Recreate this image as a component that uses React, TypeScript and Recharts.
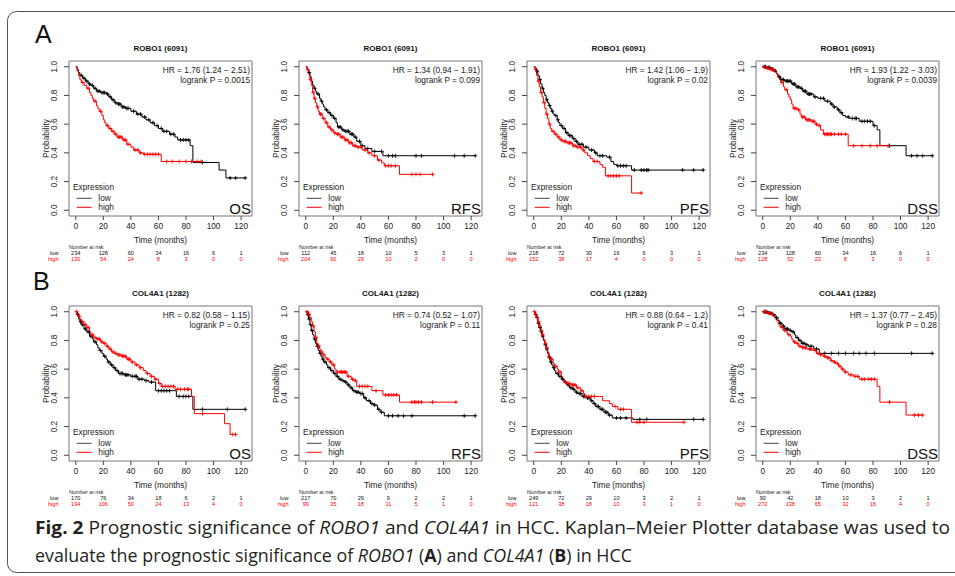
import React from 'react';
import { ComposedChart, Line, Scatter, XAxis, YAxis, ReferenceArea } from 'recharts';

type Step = [number, number];

const monthTicks = [0, 20, 40, 60, 80, 100, 120];
const probTicks = [0, 0.2, 0.4, 0.6, 0.8, 1];

// ROBO1 (6091) - OS
const robo1OsLowSteps: Step[] = [[0, 1], [1, 0.98], [2, 0.96], [3, 0.94], [5, 0.92], [7, 0.9], [9, 0.88], [11, 0.87], [13, 0.85], [15, 0.83], [18, 0.82], [22, 0.81], [24, 0.79], [26, 0.77], [28, 0.75], [30, 0.74], [33, 0.72], [36, 0.71], [40, 0.69], [44, 0.67], [48, 0.65], [51, 0.63], [54, 0.61], [57, 0.59], [60, 0.57], [63, 0.55], [68, 0.53], [72, 0.51], [74, 0.49], [83, 0.45], [85, 0.333], [104, 0.28], [109, 0.225]];
const robo1OsLowCensor = [4, 6, 8, 10, 12, 14, 16, 17, 19, 20, 21, 23, 25, 27, 29, 31, 32, 34, 35, 37, 38, 42, 45, 47, 50, 53, 56, 59, 62, 64, 66, 69, 71, 76, 78, 80, 82, 92, 112, 116, 123];
const robo1OsHighSteps: Step[] = [[0, 1], [1, 0.97], [2, 0.94], [3, 0.91], [4, 0.89], [6, 0.87], [8, 0.85], [10, 0.82], [11, 0.8], [12, 0.78], [13, 0.76], [15, 0.73], [16, 0.71], [17, 0.69], [19, 0.66], [20, 0.63], [21, 0.61], [22, 0.59], [24, 0.57], [26, 0.55], [28, 0.53], [30, 0.51], [34, 0.49], [37, 0.46], [40, 0.44], [42, 0.42], [46, 0.4], [49, 0.39], [62, 0.34]];
const robo1OsHighCensor = [5, 9, 14, 18, 23, 25, 27, 29, 31, 32, 33, 35, 36, 38, 43, 45, 47, 50, 52, 54, 56, 58, 60, 66, 70, 75, 80, 84, 88, 91];
const robo1OsRiskLow = [234, 128, 60, 34, 16, 6, 1];
const robo1OsRiskHigh = [130, 54, 24, 8, 3, 0, 0];

// ROBO1 (6091) - RFS
const robo1RfsLowSteps: Step[] = [[0, 1], [1, 0.98], [2, 0.96], [3, 0.93], [4, 0.9], [5, 0.87], [6, 0.85], [7, 0.83], [8, 0.81], [10, 0.78], [11, 0.76], [12, 0.74], [13, 0.72], [14, 0.7], [16, 0.68], [18, 0.66], [20, 0.64], [22, 0.61], [23, 0.58], [26, 0.56], [28, 0.55], [32, 0.53], [35, 0.51], [37, 0.48], [40, 0.45], [43, 0.43], [48, 0.41], [56, 0.38]];
const robo1RfsLowCensor = [2.5, 6.5, 9, 11.5, 15, 17, 19, 21, 24, 25, 27, 29, 30, 31, 33, 34, 36, 39, 41, 45, 50, 55, 60, 63, 65, 80, 84, 108, 115, 123];
const robo1RfsHighSteps: Step[] = [[0, 1], [1, 0.98], [2, 0.95], [3, 0.91], [4, 0.87], [5, 0.82], [6, 0.78], [7, 0.75], [8, 0.72], [9, 0.69], [10, 0.67], [12, 0.64], [14, 0.61], [16, 0.58], [18, 0.56], [20, 0.54], [22, 0.53], [25, 0.51], [28, 0.49], [31, 0.47], [34, 0.45], [37, 0.44], [41, 0.42], [45, 0.4], [48, 0.38], [52, 0.35], [55, 0.33], [57, 0.31], [68, 0.25]];
const robo1RfsHighCensor = [1.5, 3.5, 5.5, 6.5, 8.5, 10.5, 11, 13, 15, 17, 19, 21, 23, 24, 26, 27, 29, 30, 32, 33, 35, 36, 38, 40, 43, 46, 50, 53, 58, 60, 62, 65, 77, 80, 83, 92];
const robo1RfsRiskLow = [112, 45, 18, 10, 5, 3, 1];
const robo1RfsRiskHigh = [204, 60, 29, 10, 2, 0, 0];

// ROBO1 (6091) - PFS
const robo1PfsLowSteps: Step[] = [[0, 1], [1, 0.99], [2, 0.97], [3, 0.94], [4, 0.91], [5, 0.88], [6, 0.85], [7, 0.82], [8, 0.8], [9, 0.77], [10, 0.75], [11, 0.73], [12, 0.71], [13, 0.69], [14, 0.67], [15, 0.66], [17, 0.63], [18, 0.61], [19, 0.59], [21, 0.57], [23, 0.54], [25, 0.52], [28, 0.5], [30, 0.48], [32, 0.46], [36, 0.44], [40, 0.42], [44, 0.4], [46, 0.38], [53, 0.37], [56, 0.34], [58, 0.32], [60, 0.31], [71, 0.28]];
const robo1PfsLowCensor = [2.5, 4.5, 6.5, 9.5, 11.5, 13.5, 16, 17.5, 20, 22, 24, 26, 27, 29, 31, 33, 35, 38, 42, 45, 48, 50, 55, 61, 63, 65, 67, 73, 78, 80, 82, 83, 108, 116, 123];
const robo1PfsHighSteps: Step[] = [[0, 1], [1, 0.98], [2, 0.94], [3, 0.9], [4, 0.86], [5, 0.82], [6, 0.79], [7, 0.75], [8, 0.71], [9, 0.67], [10, 0.64], [11, 0.6], [12, 0.57], [13, 0.55], [15, 0.53], [17, 0.51], [19, 0.49], [21, 0.48], [24, 0.47], [28, 0.45], [31, 0.44], [35, 0.42], [37, 0.4], [39, 0.38], [41, 0.36], [43, 0.34], [48, 0.32], [50, 0.3], [52, 0.24], [71, 0.12]];
const robo1PfsHighCensor = [1.5, 3.5, 5.5, 7.5, 9.5, 11.5, 14, 16, 18, 20, 22, 23, 25, 26, 27, 29, 30, 32, 34, 36, 44, 46, 54, 56, 58, 60, 62, 78];
const robo1PfsRiskLow = [218, 72, 30, 16, 6, 3, 1];
const robo1PfsRiskHigh = [152, 38, 17, 4, 0, 0, 0];

// ROBO1 (6091) - DSS
const robo1DssLowSteps: Step[] = [[0, 1], [3, 0.995], [6, 0.985], [8, 0.97], [10, 0.95], [11, 0.93], [13, 0.91], [16, 0.9], [21, 0.88], [24, 0.86], [27, 0.85], [29, 0.83], [32, 0.81], [37, 0.79], [40, 0.78], [45, 0.76], [49, 0.74], [51, 0.72], [54, 0.7], [56, 0.68], [58, 0.66], [60, 0.65], [63, 0.64], [70, 0.62], [80, 0.59], [83, 0.56], [85, 0.45], [104, 0.38]];
const robo1DssLowCensor = [1, 2, 4, 5, 7, 9, 12, 14, 15, 17, 18, 19, 20, 22, 23, 25, 26, 28, 30, 31, 33, 34, 35, 38, 42, 44, 47, 50, 52, 55, 57, 62, 65, 67, 68, 72, 74, 76, 78, 81, 92, 108, 112, 116, 123];
const robo1DssHighSteps: Step[] = [[0, 1], [2, 0.99], [5, 0.98], [9, 0.97], [10, 0.95], [11, 0.93], [12, 0.91], [13, 0.89], [15, 0.86], [16, 0.84], [18, 0.81], [19, 0.79], [20, 0.77], [21, 0.74], [22, 0.71], [25, 0.7], [27, 0.67], [28, 0.65], [31, 0.63], [35, 0.62], [38, 0.6], [40, 0.59], [42, 0.56], [44, 0.53], [62, 0.45]];
const robo1DssHighCensor = [1, 3, 4, 6, 7, 8, 14, 17, 23, 24, 26, 29, 30, 32, 33, 34, 36, 37, 39, 41, 45, 46, 47, 48, 49, 50, 52, 55, 57, 60, 66, 72, 78, 83, 91];
const robo1DssRiskLow = [234, 128, 60, 34, 16, 6, 1];
const robo1DssRiskHigh = [128, 52, 23, 8, 3, 0, 0];

// COL4A1 (1282) - OS
const col4a1OsLowSteps: Step[] = [[0, 1], [1, 0.98], [2, 0.95], [3, 0.93], [4, 0.91], [6, 0.88], [8, 0.86], [10, 0.83], [12, 0.81], [13, 0.79], [15, 0.77], [16, 0.75], [17, 0.73], [19, 0.71], [20, 0.69], [22, 0.67], [23, 0.65], [25, 0.63], [27, 0.61], [29, 0.59], [31, 0.57], [35, 0.56], [40, 0.55], [45, 0.53], [50, 0.52], [53, 0.51], [58, 0.45], [73, 0.41], [85, 0.32]];
const col4a1OsLowCensor = [1.5, 3.5, 5, 7, 9, 11, 14, 18, 21, 24, 26, 28, 30, 32, 33, 34, 36, 37, 38, 41, 43, 44, 46, 48, 51, 55, 60, 62, 64, 66, 68, 75, 78, 80, 82, 92, 110, 123];
const col4a1OsHighSteps: Step[] = [[0, 1], [1, 0.99], [2, 0.97], [3, 0.95], [4, 0.93], [6, 0.91], [8, 0.89], [10, 0.86], [11, 0.84], [13, 0.82], [15, 0.81], [18, 0.79], [20, 0.78], [22, 0.76], [24, 0.74], [26, 0.72], [28, 0.71], [30, 0.7], [33, 0.69], [37, 0.67], [40, 0.65], [43, 0.63], [46, 0.61], [49, 0.59], [51, 0.57], [54, 0.55], [57, 0.53], [60, 0.5], [62, 0.48], [72, 0.46], [84, 0.41], [86, 0.29], [108, 0.22], [112, 0.145]];
const col4a1OsHighCensor = [0.5, 2.5, 5, 7, 9, 12, 14, 16, 17, 19, 21, 23, 25, 27, 29, 31, 32, 34, 35, 36, 38, 39, 41, 44, 47, 52, 55, 58, 61, 63, 65, 67, 69, 71, 74, 76, 79, 81, 82, 92, 114, 116];
const col4a1OsRiskLow = [170, 76, 34, 18, 6, 2, 1];
const col4a1OsRiskHigh = [194, 106, 50, 24, 13, 4, 0];

// COL4A1 (1282) - RFS
const col4a1RfsLowSteps: Step[] = [[0, 1], [1, 0.98], [2, 0.95], [3, 0.91], [4, 0.87], [5, 0.84], [6, 0.81], [7, 0.78], [8, 0.76], [9, 0.73], [10, 0.71], [11, 0.69], [12, 0.67], [13, 0.65], [15, 0.63], [16, 0.61], [18, 0.59], [20, 0.57], [22, 0.55], [24, 0.53], [26, 0.52], [28, 0.51], [30, 0.49], [32, 0.47], [34, 0.45], [36, 0.44], [39, 0.43], [42, 0.4], [44, 0.38], [47, 0.36], [49, 0.35], [52, 0.32], [54, 0.3], [57, 0.275]];
const col4a1RfsLowCensor = [1.5, 2.5, 3.5, 4.5, 6.5, 8.5, 10.5, 12.5, 14, 17, 19, 21, 23, 25, 27, 29, 31, 33, 35, 37, 38, 40, 41, 43, 46, 48, 50, 53, 55, 60, 63, 67, 71, 77, 115, 123];
const col4a1RfsHighSteps: Step[] = [[0, 1], [2, 0.98], [3, 0.96], [4, 0.93], [5, 0.9], [6, 0.86], [7, 0.82], [8, 0.78], [9, 0.76], [10, 0.74], [11, 0.72], [12, 0.7], [14, 0.68], [15, 0.67], [17, 0.65], [19, 0.63], [21, 0.6], [22, 0.58], [30, 0.55], [33, 0.53], [35, 0.52], [37, 0.48], [48, 0.45], [56, 0.42], [68, 0.37]];
const col4a1RfsHighCensor = [1, 2.5, 5.5, 7.5, 9.5, 11.5, 13, 16, 18, 20, 23, 25, 26, 27, 28, 29, 31, 34, 36, 39, 41, 43, 45, 51, 58, 60, 62, 64, 66, 77, 79, 80, 82, 84, 92, 109];
const col4a1RfsRiskLow = [217, 70, 29, 9, 2, 2, 1];
const col4a1RfsRiskHigh = [99, 35, 18, 11, 5, 1, 0];

// COL4A1 (1282) - PFS
const col4a1PfsLowSteps: Step[] = [[0, 1], [1, 0.98], [2, 0.96], [3, 0.92], [4, 0.89], [5, 0.86], [6, 0.83], [7, 0.8], [8, 0.77], [9, 0.74], [10, 0.71], [11, 0.68], [12, 0.65], [13, 0.63], [14, 0.61], [15, 0.59], [16, 0.57], [18, 0.55], [20, 0.53], [22, 0.51], [24, 0.49], [26, 0.47], [28, 0.46], [30, 0.44], [32, 0.43], [35, 0.41], [38, 0.4], [41, 0.38], [43, 0.36], [45, 0.34], [48, 0.32], [51, 0.3], [54, 0.28], [57, 0.26], [72, 0.25]];
const col4a1PfsLowCensor = [1.5, 2.5, 3.5, 4.5, 5.5, 6.5, 8.5, 9.5, 11.5, 12.5, 14.5, 17, 19, 21, 23, 25, 27, 29, 31, 33, 34, 36, 37, 39, 40, 42, 44, 46, 47, 49, 50, 52, 53, 55, 60, 63, 67, 77, 82, 116, 123];
const col4a1PfsHighSteps: Step[] = [[0, 1], [1, 0.98], [2, 0.96], [3, 0.93], [4, 0.9], [5, 0.87], [6, 0.84], [7, 0.81], [8, 0.78], [9, 0.75], [10, 0.72], [11, 0.69], [12, 0.67], [14, 0.64], [15, 0.62], [17, 0.6], [18, 0.58], [20, 0.55], [21, 0.53], [22, 0.51], [24, 0.5], [27, 0.49], [31, 0.47], [34, 0.45], [36, 0.43], [37, 0.41], [50, 0.38], [55, 0.36], [57, 0.34], [61, 0.32], [71, 0.23]];
const col4a1PfsHighCensor = [0.5, 1.5, 2.5, 3.5, 4.5, 5.5, 6.5, 8.5, 9.5, 11, 13, 16, 19, 23, 25, 26, 28, 29, 30, 32, 35, 38, 40, 42, 44, 59, 63, 65, 75, 77, 80, 109];
const col4a1PfsRiskLow = [249, 72, 29, 10, 3, 2, 1];
const col4a1PfsRiskHigh = [121, 38, 18, 10, 3, 1, 0];

// COL4A1 (1282) - DSS
const col4a1DssLowSteps: Step[] = [[0, 1], [4, 0.99], [7, 0.98], [9, 0.96], [11, 0.94], [12, 0.92], [14, 0.9], [16, 0.88], [19, 0.87], [21, 0.86], [23, 0.84], [24, 0.82], [26, 0.8], [28, 0.78], [31, 0.77], [33, 0.76], [37, 0.74], [41, 0.71]];
const col4a1DssLowCensor = [1, 2, 3, 5, 6, 8, 10, 13, 15, 17, 18, 20, 22, 25, 27, 29, 30, 32, 35, 39, 45, 50, 55, 60, 66, 70, 75, 81, 108, 123];
const col4a1DssHighSteps: Step[] = [[0, 1], [3, 0.99], [6, 0.98], [8, 0.97], [9, 0.95], [10, 0.94], [11, 0.92], [12, 0.9], [13, 0.89], [15, 0.87], [17, 0.86], [18, 0.84], [20, 0.83], [21, 0.81], [22, 0.79], [24, 0.78], [26, 0.76], [28, 0.75], [32, 0.74], [36, 0.73], [39, 0.71], [41, 0.7], [44, 0.69], [46, 0.68], [49, 0.66], [51, 0.65], [53, 0.64], [55, 0.62], [57, 0.6], [59, 0.58], [62, 0.56], [66, 0.55], [70, 0.53], [83, 0.48], [85, 0.37], [104, 0.28]];
const col4a1DssHighCensor = [1, 2, 4, 5, 7, 14, 16, 19, 23, 25, 27, 29, 30, 31, 34, 35, 38, 40, 42, 45, 47, 48, 50, 52, 54, 56, 58, 60, 64, 67, 69, 72, 74, 77, 79, 81, 92, 110, 113, 116];
const col4a1DssRiskLow = [90, 42, 18, 10, 3, 2, 1];
const col4a1DssRiskHigh = [272, 138, 65, 32, 16, 4, 0];

const LOW = '#000000';
const HIGH = '#ff0000';
const FONT = '"Liberation Sans", Arial, Helvetica, sans-serif';

// panel geometry: box (plot frame) positions in page pixels
const colLefts = [69, 299, 527, 756];
const rowTops = [61, 306];
const W = 228;
const H = 240;
const YW = 40;
const TOP = 30;
const PLOT_W = 183;
const PLOT_H = 155;
const X_DOMAIN: [number, number] = [-4.9, 127.9];
const Y_DOMAIN: [number, number] = [-0.04, 1.04];

interface PanelCfg {
  gene: string;
  kind: string;
  hr: string;
  p: string;
  lowSteps: Step[];
  lowCensor: number[];
  highSteps: Step[];
  highCensor: number[];
  riskLow: number[];
  riskHigh: number[];
  left: number;
  top: number;
}

const panels: PanelCfg[] = [
  { gene: 'ROBO1 (6091)', kind: 'OS', hr: 'HR = 1.76 (1.24 \u2212 2.51)', p: 'logrank P = 0.0015', lowSteps: robo1OsLowSteps, lowCensor: robo1OsLowCensor, highSteps: robo1OsHighSteps, highCensor: robo1OsHighCensor, riskLow: robo1OsRiskLow, riskHigh: robo1OsRiskHigh, left: colLefts[0], top: rowTops[0] },
  { gene: 'ROBO1 (6091)', kind: 'RFS', hr: 'HR = 1.34 (0.94 \u2212 1.91)', p: 'logrank P = 0.099', lowSteps: robo1RfsLowSteps, lowCensor: robo1RfsLowCensor, highSteps: robo1RfsHighSteps, highCensor: robo1RfsHighCensor, riskLow: robo1RfsRiskLow, riskHigh: robo1RfsRiskHigh, left: colLefts[1], top: rowTops[0] },
  { gene: 'ROBO1 (6091)', kind: 'PFS', hr: 'HR = 1.42 (1.06 \u2212 1.9)', p: 'logrank P = 0.02', lowSteps: robo1PfsLowSteps, lowCensor: robo1PfsLowCensor, highSteps: robo1PfsHighSteps, highCensor: robo1PfsHighCensor, riskLow: robo1PfsRiskLow, riskHigh: robo1PfsRiskHigh, left: colLefts[2], top: rowTops[0] },
  { gene: 'ROBO1 (6091)', kind: 'DSS', hr: 'HR = 1.93 (1.22 \u2212 3.03)', p: 'logrank P = 0.0039', lowSteps: robo1DssLowSteps, lowCensor: robo1DssLowCensor, highSteps: robo1DssHighSteps, highCensor: robo1DssHighCensor, riskLow: robo1DssRiskLow, riskHigh: robo1DssRiskHigh, left: colLefts[3], top: rowTops[0] },
  { gene: 'COL4A1 (1282)', kind: 'OS', hr: 'HR = 0.82 (0.58 \u2212 1.15)', p: 'logrank P = 0.25', lowSteps: col4a1OsLowSteps, lowCensor: col4a1OsLowCensor, highSteps: col4a1OsHighSteps, highCensor: col4a1OsHighCensor, riskLow: col4a1OsRiskLow, riskHigh: col4a1OsRiskHigh, left: colLefts[0], top: rowTops[1] },
  { gene: 'COL4A1 (1282)', kind: 'RFS', hr: 'HR = 0.74 (0.52 \u2212 1.07)', p: 'logrank P = 0.11', lowSteps: col4a1RfsLowSteps, lowCensor: col4a1RfsLowCensor, highSteps: col4a1RfsHighSteps, highCensor: col4a1RfsHighCensor, riskLow: col4a1RfsRiskLow, riskHigh: col4a1RfsRiskHigh, left: colLefts[1], top: rowTops[1] },
  { gene: 'COL4A1 (1282)', kind: 'PFS', hr: 'HR = 0.88 (0.64 \u2212 1.2)', p: 'logrank P = 0.41', lowSteps: col4a1PfsLowSteps, lowCensor: col4a1PfsLowCensor, highSteps: col4a1PfsHighSteps, highCensor: col4a1PfsHighCensor, riskLow: col4a1PfsRiskLow, riskHigh: col4a1PfsRiskHigh, left: colLefts[2], top: rowTops[1] },
  { gene: 'COL4A1 (1282)', kind: 'DSS', hr: 'HR = 1.37 (0.77 \u2212 2.45)', p: 'logrank P = 0.28', lowSteps: col4a1DssLowSteps, lowCensor: col4a1DssLowCensor, highSteps: col4a1DssHighSteps, highCensor: col4a1DssHighCensor, riskLow: col4a1DssRiskLow, riskHigh: col4a1DssRiskHigh, left: colLefts[3], top: rowTops[1] },
];

// merge step points and censor times into one curve; censor marks sit on the step value
function buildCurve(steps: Step[], censors: number[]) {
  const valueAt = (t: number) => {
    let s = steps[0][1];
    for (const [st, sv] of steps) if (st <= t) s = sv;
    return s;
  };
  const marks = censors.map((t) => ({ t, s: valueAt(t) }));
  const line = [...steps.map(([t, s]) => ({ t, s })), ...marks].sort((a, b) => a.t - b.t);
  return { line, marks };
}

const plusShape = (color: string) => (props: any) => {
  const { cx, cy } = props;
  if (cx == null || cy == null) return <g />;
  return <path d={`M${cx - 2},${cy}h4M${cx},${cy - 2}v4`} stroke={color} strokeWidth={0.9} fill="none" />;
};

const YTick = (props: any) => {
  const { x, y, payload } = props;
  return (
    <text transform={`translate(${x - 5.5},${y}) rotate(-90)`} textAnchor="middle" fontSize={8.3} fontFamily={FONT} fill="#222">
      {Number(payload.value).toFixed(1)}
    </text>
  );
};

const XTick = (props: any) => {
  const { x, y, payload, low, high } = props;
  const i = monthTicks.indexOf(payload.value);
  return (
    <g fontFamily={FONT}>
      <text x={x} y={y + 6.5} textAnchor="middle" fontSize={8.3} fill="#222">{payload.value}</text>
      <text x={x} y={y + 32.5} textAnchor="middle" fontSize={5.6} fill="#111">{low[i]}</text>
      <text x={x} y={y + 39} textAnchor="middle" fontSize={5.6} fill={HIGH}>{high[i]}</text>
    </g>
  );
};

const KmPanel: React.FC<{ cfg: PanelCfg }> = ({ cfg }) => {
  const low = buildCurve(cfg.lowSteps, cfg.lowCensor);
  const high = buildCurve(cfg.highSteps, cfg.highCensor);
  const midX = YW + PLOT_W / 2;

  return (
    <div style={{ position: 'absolute', left: cfg.left - YW, top: cfg.top - TOP, width: W, height: H }}>
      <ComposedChart width={W} height={H} margin={{ top: TOP, right: W - YW - PLOT_W, bottom: 0, left: 0 }}>
        <XAxis
          type="number"
          dataKey="t"
          domain={X_DOMAIN}
          ticks={monthTicks}
          interval={0}
          allowDataOverflow
          axisLine={false}
          tickSize={4}
          tickLine={{ stroke: '#444' }}
          height={H - TOP - PLOT_H}
          tick={(p: any) => <XTick {...p} low={cfg.riskLow} high={cfg.riskHigh} />}
        />
        <YAxis
          type="number"
          dataKey="s"
          domain={Y_DOMAIN}
          ticks={probTicks}
          interval={0}
          allowDataOverflow
          axisLine={false}
          tickSize={5}
          tickLine={{ stroke: '#444' }}
          width={YW}
          tick={(p: any) => <YTick {...p} />}
        />
        <ReferenceArea x1={X_DOMAIN[0]} x2={X_DOMAIN[1]} y1={Y_DOMAIN[0]} y2={Y_DOMAIN[1]} fill="none" stroke="#777" strokeWidth={1} ifOverflow="visible" />
        <Line data={low.line} dataKey="s" type="stepAfter" stroke={LOW} strokeWidth={1} dot={false} isAnimationActive={false} />
        <Line data={high.line} dataKey="s" type="stepAfter" stroke={HIGH} strokeWidth={1} dot={false} isAnimationActive={false} />
        <Scatter data={low.marks} dataKey="s" shape={plusShape(LOW)} isAnimationActive={false} />
        <Scatter data={high.marks} dataKey="s" shape={plusShape(HIGH)} isAnimationActive={false} />
      </ComposedChart>
      <svg width={W} height={H} style={{ position: 'absolute', left: 0, top: 0, pointerEvents: 'none', overflow: 'visible' }} fontFamily={FONT}>
        <text x={midX} y={19.5} textAnchor="middle" fontSize={8} fontWeight="bold" fill="#111">{cfg.gene}</text>
        <text x={YW + PLOT_W - 2} y={TOP + 11.5} textAnchor="end" fontSize={8.3} fill="#222">{cfg.hr}</text>
        <text x={YW + PLOT_W - 2} y={TOP + 21.5} textAnchor="end" fontSize={8.3} fill="#222">{cfg.p}</text>
        <text x={YW + 4} y={TOP + 129} fontSize={8.3} fill="#222">Expression</text>
        <line x1={YW + 7.7} x2={YW + 22.7} y1={TOP + 137.3} y2={TOP + 137.3} stroke="#444" strokeWidth={1} />
        <text x={YW + 29.3} y={TOP + 140.3} fontSize={8.3} fill="#222">low</text>
        <line x1={YW + 7.7} x2={YW + 22.7} y1={TOP + 146.3} y2={TOP + 146.3} stroke={HIGH} strokeWidth={1} />
        <text x={YW + 29.3} y={TOP + 149.3} fontSize={8.3} fill="#222">high</text>
        <text x={YW + PLOT_W - 1} y={TOP + PLOT_H - 2} textAnchor="end" fontSize={15} fill="#111">{cfg.kind}</text>
        <text transform={`translate(19.5,${TOP + 0.54 * (PLOT_H / 1.08)}) rotate(-90)`} textAnchor="middle" fontSize={8.3} fill="#222">Probability</text>
        <text x={midX} y={TOP + PLOT_H + 26.5} textAnchor="middle" fontSize={8.3} fill="#222">Time (months)</text>
        <text x={YW} y={TOP + PLOT_H + 32.5} fontSize={5.3} fill="#222">Number at risk</text>
        <text x={29.5} y={TOP + PLOT_H + 38.5} textAnchor="end" fontSize={5.6} fill="#111">low</text>
        <text x={29.5} y={TOP + PLOT_H + 45} textAnchor="end" fontSize={5.6} fill={HIGH}>high</text>
      </svg>
    </div>
  );
};

const CAPTION_FONT = '"Open Sans", "Noto Sans", sans-serif';

export default function App() {
  return (
    <div style={{ position: 'absolute', left: 0, top: 0, width: 955, height: 576, background: '#fff', overflow: 'hidden' }}>
      <svg width={955} height={576} style={{ position: 'absolute', left: 0, top: 0 }}>
        <rect x={7.5} y={11.5} width={1000} height={561} rx={9} ry={9} fill="none" stroke="#555" strokeWidth={1} />
        <text x={35} y={43} fontSize={25} fontFamily={FONT} fill="#111">A</text>
        <text x={33} y={290} fontSize={25} fontFamily={FONT} fill="#111">B</text>
        <text x={35} y={534} fontSize={17.5} fontFamily={CAPTION_FONT} fill="#231f20" textLength={915} lengthAdjust="spacingAndGlyphs">
          <tspan fontWeight="bold">Fig. 2</tspan>
          <tspan>{'  Prognostic significance of '}</tspan>
          <tspan fontStyle="italic">ROBO1</tspan>
          <tspan>{' and '}</tspan>
          <tspan fontStyle="italic">COL4A1</tspan>
          <tspan>{' in HCC. Kaplan\u2013Meier Plotter database was used to'}</tspan>
        </text>
        <text x={35} y={562} fontSize={17.5} fontFamily={CAPTION_FONT} fill="#231f20" textLength={597} lengthAdjust="spacingAndGlyphs">
          <tspan>{'evaluate the prognostic significance of '}</tspan>
          <tspan fontStyle="italic">ROBO1</tspan>
          <tspan>{' ('}</tspan>
          <tspan fontWeight="bold">A</tspan>
          <tspan>{') and '}</tspan>
          <tspan fontStyle="italic">COL4A1</tspan>
          <tspan>{' ('}</tspan>
          <tspan fontWeight="bold">B</tspan>
          <tspan>{') in HCC'}</tspan>
        </text>
      </svg>
      {panels.map((cfg, i) => (
        <KmPanel key={i} cfg={cfg} />
      ))}
    </div>
  );
}
